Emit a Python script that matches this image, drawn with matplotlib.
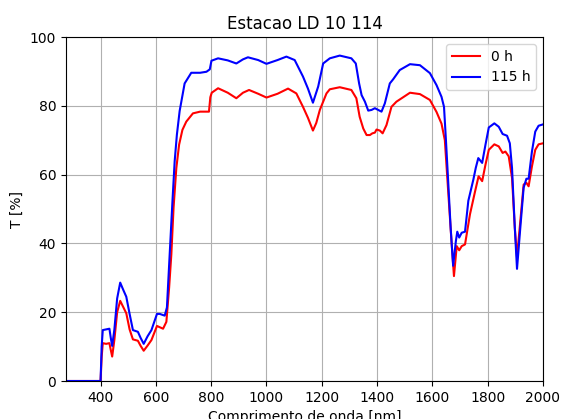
import matplotlib
matplotlib.use("Agg")
import matplotlib.pyplot as plt

wl_0h = [275, 400, 404, 408, 420, 432, 437, 442, 450, 460, 471, 482, 493, 505, 517, 535, 545, 556, 570, 584,
         604, 615, 626, 638, 648, 656, 664, 674, 684, 696, 710, 734, 760, 792, 797, 802, 825, 860, 891, 915,
         937, 970, 1000, 1040, 1078, 1108, 1132, 1150, 1168, 1180, 1193, 1217, 1229, 1265, 1307, 1325, 1337,
         1350, 1362, 1374, 1383, 1392, 1398, 1410, 1420, 1434, 1452, 1470, 1519, 1555, 1591, 1615, 1633, 1645,
         1657, 1669, 1678, 1688, 1697, 1706, 1718, 1736, 1754, 1767, 1780, 1792, 1804, 1824, 1840, 1854, 1864,
         1876, 1888, 1898, 1906, 1918, 1930, 1940, 1948, 1960, 1972, 1984, 2000]
T_0h = [0, 0, 7, 11.0, 10.8, 11, 9, 7.1, 12, 20, 23.3, 21.5, 19.7, 15, 12.1, 11.7, 10.2, 8.8, 10.3, 11.9,
        16.0, 15.6, 15.2, 17.2, 27.2, 36.9, 50.4, 61.9, 68.7, 73, 75.4, 77.8, 78.3, 78.3, 82.5, 83.8, 85.1, 83.8, 82.2, 83.8,
        84.6, 83.5, 82.4, 83.5, 85.0, 83.6, 79.7, 76.5, 72.8, 75, 78.8, 83.6, 84.8, 85.4, 84.6, 82.2, 76.8,
        73.4, 71.5, 71.5, 72, 72.2, 73.1, 72.8, 72, 74.4, 79.7, 81.2, 83.8, 83.4, 81.7, 78.2, 74.8, 70,
        55.3, 40.7, 30.5, 39.2, 38, 39.2, 39.7, 48.5, 55, 59.5, 58.1, 62.9, 67.2, 68.8, 68.2, 66.3, 66.7,
        65.3, 59, 44.6, 36, 46.5, 57.1, 57.6, 56.6, 62.4, 67.2, 68.8, 69.1]

wl_115h = [275, 400, 404, 408, 420, 432, 437, 442, 450, 460, 471, 482, 493, 505, 517, 535, 545, 556, 570, 584,
           604, 614, 632, 640, 650, 660, 668, 676, 686, 704, 728, 760, 783, 795, 801, 825, 860, 891, 915, 933,
           970, 1000, 1040, 1072, 1102, 1132, 1150, 1168, 1187, 1205, 1229, 1265, 1307, 1323, 1335, 1344, 1356,
           1368, 1380, 1392, 1404, 1416, 1428, 1446, 1458, 1482, 1519, 1555, 1591, 1615, 1633, 1642, 1649, 1657,
           1666, 1675, 1685, 1690, 1697, 1706, 1718, 1730, 1748, 1757, 1766, 1780, 1792, 1804, 1824, 1840, 1854,
           1870, 1880, 1888, 1898, 1906, 1918, 1930, 1940, 1948, 1960, 1972, 1984, 2000]
T_115h = [0, 0, 10, 14.8, 15, 15.2, 12.5, 10.2, 15, 24, 28.6, 26.5, 24.5, 19.5, 14.8, 14.3, 12.5, 10.8, 13, 14.8,
          19.5, 19.5, 19, 21.4, 36.9, 52.3, 63.9, 71.6, 78.5, 86.5, 89.6, 89.6, 89.9, 90.6, 93.1, 93.8, 93.2, 92.3, 93.5, 94.1,
          93.3, 92.2, 93.3, 94.3, 93.3, 88.5, 85, 80.9, 85.6, 92.3, 93.8, 94.6, 93.8, 92.3, 86.5, 83.1, 81.2,
          78.6, 78.8, 79.3, 78.8, 78.3, 80.7, 86.5, 87.7, 90.4, 92.1, 91.8, 89.5, 86, 82.6, 79.7, 70, 58.2,
          44.6, 33.5, 40.7, 43.4, 41.7, 43.1, 43.4, 52.4, 58.5, 62, 64.8, 63.4, 68.7, 73.7, 74.9, 73.9, 71.8,
          71.3, 69.1, 61.9, 44.6, 32.6, 44.6, 56.2, 58.8, 58.8, 66.7, 72.5, 74.2, 74.6]

labels = ["0 h", "115 h"]
x_ticks = [400, 600, 800, 1000, 1200, 1400, 1600, 1800, 2000]
y_ticks = [0, 20, 40, 60, 80, 100]

fig = plt.figure(figsize=(5.61, 4.19), dpi=100)
ax = fig.add_axes([66/561, 1-381/419, (543-66)/561, (381-37)/419])
ax.plot(wl_0h, T_0h, color="red", lw=1.5, label=labels[0])
ax.plot(wl_115h, T_115h, color="blue", lw=1.5, label=labels[1])
ax.set_xlim(275, 2000)
ax.set_ylim(0, 100)
ax.set_xticks(x_ticks)
ax.set_yticks(y_ticks)
ax.grid(True)
ax.set_title("Estacao LD 10 114")
ax.set_xlabel("Comprimento de onda [nm]")
ax.set_ylabel("T [%]")
ax.legend(loc="upper right")
fig.savefig("out.png", dpi=100)
